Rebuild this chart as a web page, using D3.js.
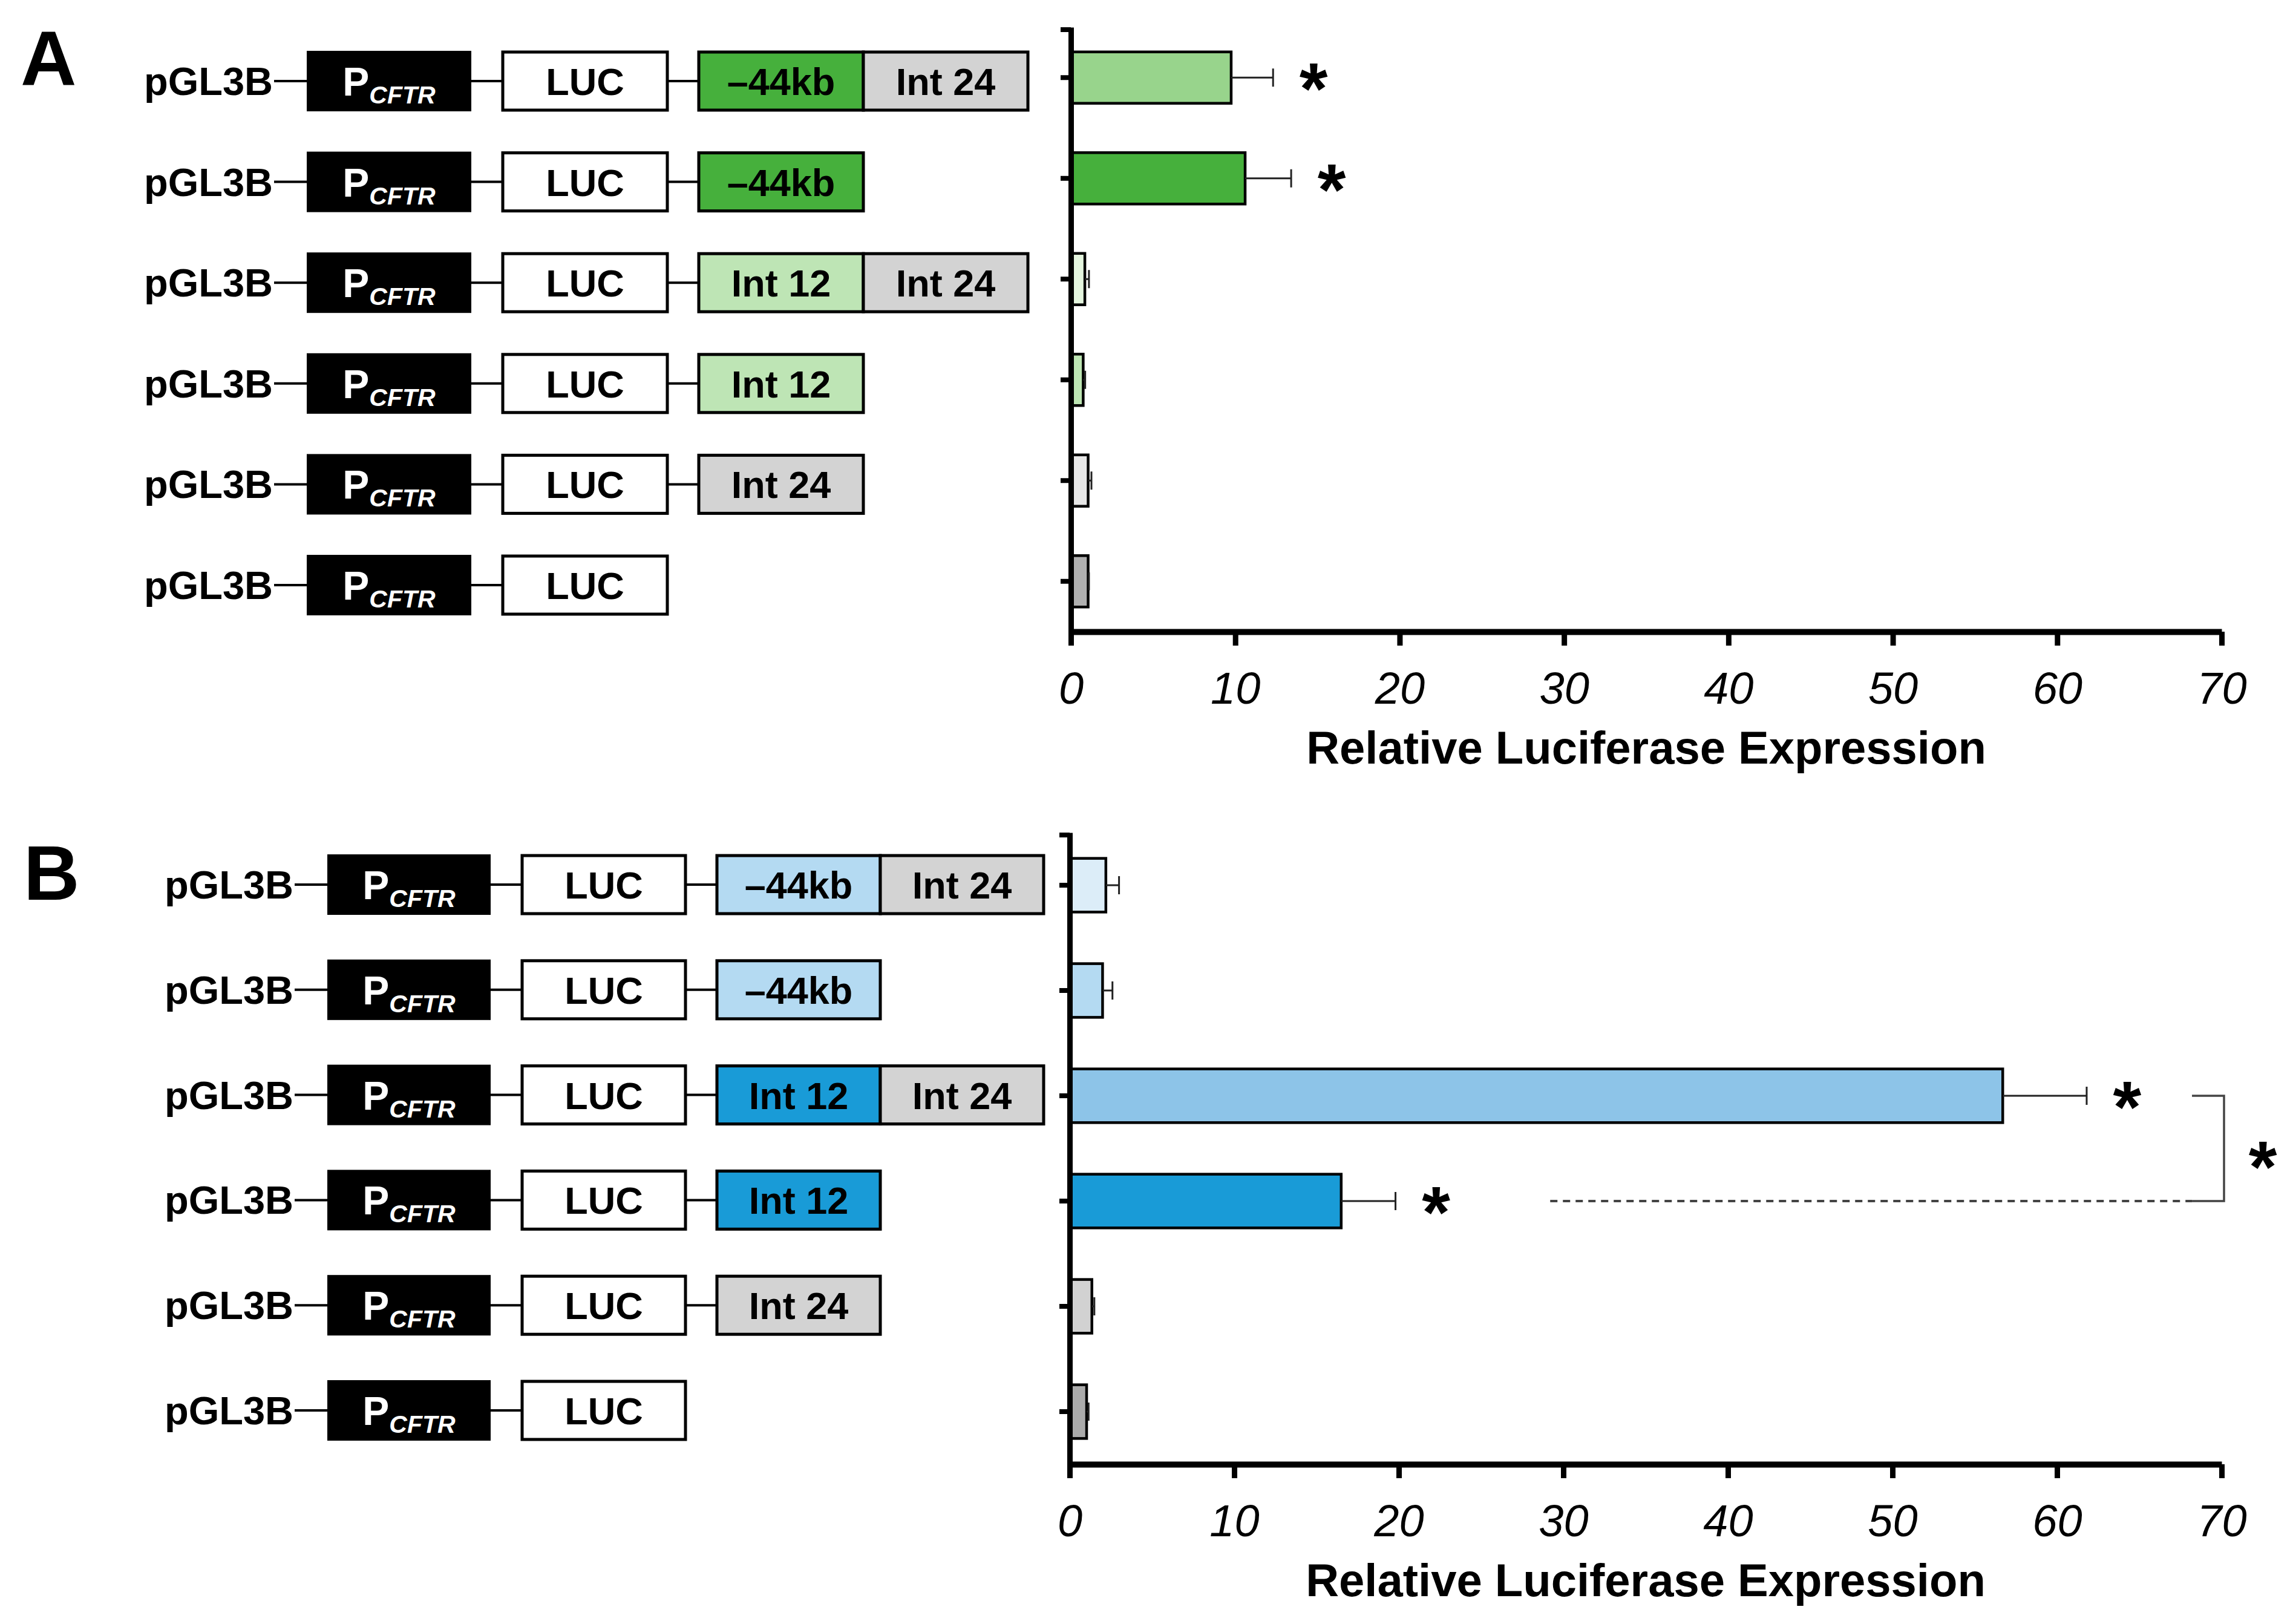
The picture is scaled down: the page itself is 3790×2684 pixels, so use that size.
<!DOCTYPE html>
<html>
<head>
<meta charset="utf-8">
<title>Relative Luciferase Expression</title>
<script src="https://d3js.org/d3.v7.min.js"></script>
<style>
  body { margin: 0; background: #fff; }
  svg { display: block; font-family: "Liberation Sans", Arial, sans-serif; }
</style>
</head>
<body>
<script>
const width = 3790, height = 2684;

// six constructs per panel, top to bottom
const rows = ['c1', 'c2', 'c3', 'c4', 'c5', 'c6'];
const inserts = [['–44kb', 'Int 24'], ['–44kb'], ['Int 12', 'Int 24'], ['Int 12'], ['Int 24'], []];

// panel A
const valuesA = [9.75, 10.6, 0.85, 0.75, 1.05, 1.05];
const semA = [2.55, 2.8, 0.25, 0.12, 0.2, 0.05];
const starsA = [true, true, false, false, false, false];
const barColorsA = ['#98d48c', '#46b03c', '#e4f5de', '#bde5b3', '#e6e6e6', '#b0b0b0'];
const boxColorsA = {'–44kb': '#46b03c', 'Int 12': '#bee5b5', 'Int 24': '#d3d3d3'};

// panel B
const valuesB = [2.2, 2.0, 56.7, 16.5, 1.35, 1.03];
const semB = [0.8, 0.6, 5.1, 3.3, 0.15, 0.12];
const starsB = [false, false, true, true, false, false];
const barColorsB = ['#dcedf8', '#b4daf2', '#8dc4e8', '#199bd7', '#d2d2d2', '#ababab'];
const boxColorsB = {'–44kb': '#b4daf2', 'Int 12': '#199bd7', 'Int 24': '#d3d3d3'};

const xTicks = [0, 10, 20, 30, 40, 50, 60, 70];
const xTitle = 'Relative Luciferase Expression';

const svg = d3.select('body').append('svg')
  .attr('width', width).attr('height', height);
svg.append('rect').attr('width', width).attr('height', height).attr('fill', '#fff');

function drawPanel(p, values, sem, stars, barColors, boxColors) {
  const g = svg.append('g');

  g.append('text')
    .attr('x', p.letterX).attr('y', p.letterY)
    .attr('font-size', 128).attr('font-weight', 'bold')
    .text(p.letter);

  // construct diagrams
  const yd = d3.scalePoint().domain(rows).range([p.rowFirst, p.rowLast]);
  const bh = 100;
  rows.forEach((r, i) => {
    const row = g.append('g').attr('transform', `translate(0,${yd(r)})`);
    row.append('text')
      .attr('x', p.textRight).attr('y', 23)
      .attr('text-anchor', 'end')
      .attr('font-size', 65).attr('font-weight', 'bold')
      .text('pGL3B');

    const xP = p.diagX, xL = p.diagX + p.bw + p.gap, xI = xL + p.bw + p.gap;
    const segs = [[p.textRight + 2, xP], [xP + p.bw, xL]];
    if (inserts[i].length) segs.push([xL + p.bw, xI]);
    segs.forEach(s => row.append('line')
      .attr('x1', s[0]).attr('x2', s[1]).attr('y1', 0).attr('y2', 0)
      .attr('stroke', '#000').attr('stroke-width', 4));

    row.append('rect')
      .attr('x', xP).attr('y', -bh / 2).attr('width', p.bw).attr('height', bh)
      .attr('fill', '#000');
    const pt = row.append('text')
      .attr('x', xP + p.bw / 2).attr('y', 24)
      .attr('text-anchor', 'middle').attr('fill', '#fff')
      .attr('font-weight', 'bold').attr('font-size', 66);
    pt.append('tspan').text('P');
    pt.append('tspan').attr('dy', 13).attr('font-size', 41)
      .attr('font-style', 'italic').text('CFTR');

    const boxes = [{x: xL, label: 'LUC', fill: '#fff'}];
    inserts[i].forEach((lab, j) => boxes.push({x: xI + j * p.bw, label: lab, fill: boxColors[lab]}));
    boxes.forEach(b => {
      row.append('rect')
        .attr('x', b.x).attr('y', -bh / 2 + 2).attr('width', p.bw).attr('height', bh - 4)
        .attr('fill', b.fill).attr('stroke', '#000').attr('stroke-width', 5);
      row.append('text')
        .attr('x', b.x + p.bw / 2).attr('y', 23)
        .attr('text-anchor', 'middle')
        .attr('font-size', 63).attr('font-weight', 'bold')
        .text(b.label);
    });
  });

  // bar chart
  const x = d3.scaleLinear().domain([0, 70]).range([p.x0, 3672]);
  const y = d3.scaleBand().domain(rows).range([p.top, p.bottom])
    .paddingInner(0.49).paddingOuter(0.245);
  const cy = r => y(r) + y.bandwidth() / 2;

  g.selectAll('.bar').data(rows).join('rect')
    .attr('class', 'bar')
    .attr('x', x(0)).attr('y', r => y(r))
    .attr('width', (r, i) => x(values[i]) - x(0))
    .attr('height', y.bandwidth())
    .attr('fill', (r, i) => barColors[i])
    .attr('stroke', '#000').attr('stroke-width', 4.5);

  g.selectAll('.err').data(rows).join('line')
    .attr('class', 'err')
    .attr('x1', (r, i) => x(values[i])).attr('x2', (r, i) => x(values[i] + sem[i]))
    .attr('y1', cy).attr('y2', cy)
    .attr('stroke', '#222').attr('stroke-width', 3);
  g.selectAll('.cap').data(rows).join('line')
    .attr('class', 'cap')
    .attr('x1', (r, i) => x(values[i] + sem[i])).attr('x2', (r, i) => x(values[i] + sem[i]))
    .attr('y1', r => cy(r) - 15).attr('y2', r => cy(r) + 15)
    .attr('stroke', '#222').attr('stroke-width', 3);

  g.selectAll('.star').data(rows.filter((r, i) => stars[i])).join('text')
    .attr('class', 'star')
    .attr('x', r => x(values[rows.indexOf(r)] + sem[rows.indexOf(r)]) + 67)
    .attr('y', r => cy(r) + 60)
    .attr('text-anchor', 'middle')
    .attr('font-size', 120).attr('font-weight', 'bold')
    .text('*');

  // axes
  const yAxis = g.append('g').attr('transform', `translate(${x(0)},0)`)
    .call(d3.axisLeft(y).tickSize(17).tickSizeOuter(0).tickFormat(''));
  yAxis.select('.domain').attr('stroke-width', 9);
  yAxis.selectAll('.tick line').attr('stroke-width', 8);
  g.append('line')
    .attr('x1', x(0) - 17).attr('x2', x(0)).attr('y1', p.top + 4).attr('y2', p.top + 4)
    .attr('stroke', '#000').attr('stroke-width', 8);

  const xAxis = g.append('g').attr('transform', `translate(0,${p.bottom})`)
    .call(d3.axisBottom(x).tickValues(xTicks).tickSize(23).tickSizeOuter(0));
  xAxis.select('.domain').attr('stroke-width', 10);
  xAxis.selectAll('.tick line').attr('stroke-width', 9);
  xAxis.selectAll('.tick text')
    .attr('y', 119).attr('dy', 0)
    .attr('font-size', 74).attr('font-style', 'italic')
    .attr('font-family', '"Liberation Sans", Arial, sans-serif');

  g.append('text')
    .attr('x', (x(0) + x(70)) / 2).attr('y', p.bottom + 218)
    .attr('text-anchor', 'middle')
    .attr('font-size', 76).attr('font-weight', 'bold')
    .text(xTitle);

  return {x, cy};
}

drawPanel({letter: 'A', letterX: 34, letterY: 141, top: 45, bottom: 1044, x0: 1770,
  textRight: 451, diagX: 507, bw: 272, gap: 52, rowFirst: 134, rowLast: 967},
  valuesA, semA, starsA, barColorsA, boxColorsA);

const b = drawPanel({letter: 'B', letterX: 39, letterY: 1487, top: 1376, bottom: 2420, x0: 1768,
  textRight: 485, diagX: 541, bw: 270, gap: 52, rowFirst: 1462, rowLast: 2331},
  valuesB, semB, starsB, barColorsB, boxColorsB);

// comparison bracket between Int 12 + Int 24 and Int 12 alone (panel B)
const yTop = b.cy(rows[2]), yBot = b.cy(rows[3]);
svg.append('line')
  .attr('x1', b.x(29.2)).attr('x2', b.x(68.2)).attr('y1', yBot).attr('y2', yBot)
  .attr('stroke', '#444').attr('stroke-width', 4).attr('stroke-dasharray', '12 9');
svg.append('path')
  .attr('d', `M${b.x(68.2)},${yTop}H${b.x(70) + 4}V${yBot}H${b.x(68.2)}`)
  .attr('fill', 'none').attr('stroke', '#444').attr('stroke-width', 3.5);
svg.append('text')
  .attr('x', b.x(70) + 68).attr('y', (yTop + yBot) / 2 + 12 + 60)
  .attr('text-anchor', 'middle')
  .attr('font-size', 120).attr('font-weight', 'bold')
  .text('*');
</script>
</body>
</html>
